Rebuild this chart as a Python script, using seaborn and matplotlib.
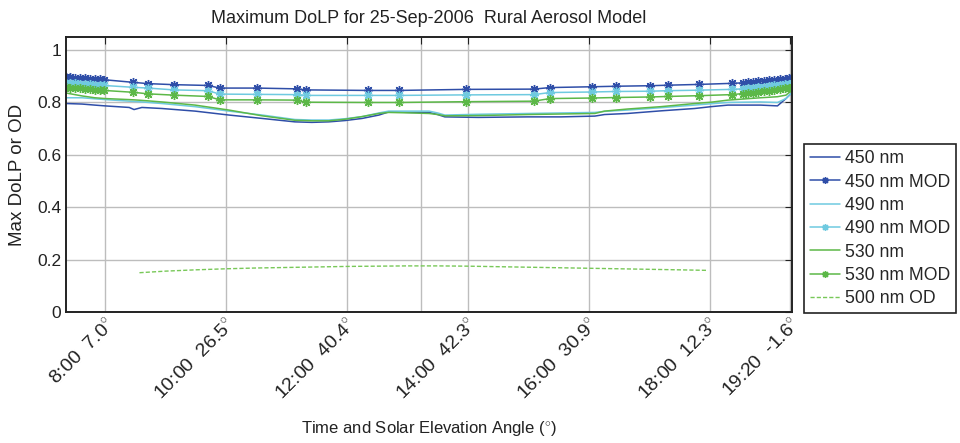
import numpy as np
import pandas as pd
import matplotlib
matplotlib.use("Agg")
import matplotlib.pyplot as plt
import seaborn as sns

# ---------------- data (hours of day) ----------------
meas_time = [7.36, 7.62, 7.83, 8.00, 8.40, 8.48, 8.61, 8.94, 9.49, 10.05, 10.60, 11.14,
             11.42, 11.70, 11.97, 12.25, 12.53, 12.69, 13.07, 13.36, 13.50, 13.62, 14.17,
             14.99, 15.54, 16.10, 16.26, 16.64, 17.19, 17.75, 18.02, 18.30, 18.84, 19.12,
             19.26, 19.36]
dolp_450 = [0.796, 0.794, 0.790, 0.787, 0.781, 0.773, 0.781, 0.777, 0.767, 0.752, 0.739, 0.726,
            0.724, 0.726, 0.731, 0.739, 0.752, 0.764, 0.762, 0.762, 0.754, 0.745, 0.743,
            0.745, 0.745, 0.748, 0.754, 0.758, 0.768, 0.777, 0.784, 0.790, 0.790, 0.787,
            0.815, 0.838]
dolp_490 = [0.818, 0.818, 0.814, 0.811, 0.805, 0.804, 0.802, 0.796, 0.784, 0.767, 0.752, 0.735,
            0.733, 0.733, 0.738, 0.746, 0.760, 0.767, 0.767, 0.767, 0.760, 0.752, 0.755,
            0.758, 0.760, 0.762, 0.766, 0.771, 0.780, 0.790, 0.795, 0.800, 0.802, 0.800,
            0.815, 0.838]
dolp_530 = [0.836, 0.825, 0.818, 0.815, 0.811, 0.810, 0.808, 0.802, 0.790, 0.771, 0.749, 0.732,
            0.730, 0.730, 0.736, 0.746, 0.758, 0.762, 0.760, 0.758, 0.754, 0.749, 0.750,
            0.754, 0.756, 0.758, 0.767, 0.775, 0.784, 0.796, 0.801, 0.809, 0.818, 0.822,
            0.828, 0.847]

mod_time = [7.36, 7.42, 7.50, 7.59, 7.67, 7.75, 7.83, 7.92, 7.98, 8.46, 8.71, 9.14, 9.70,
            9.90, 10.51, 11.17, 11.32, 12.35, 12.86, 13.97, 15.09, 15.36, 16.05, 16.45,
            17.02, 17.31, 17.83, 18.36, 18.55, 18.63, 18.71, 18.79, 18.89, 18.98, 19.07,
            19.16, 19.24, 19.31, 19.36]
mod_450 = [0.897, 0.896, 0.895, 0.894, 0.893, 0.891, 0.890, 0.888, 0.887, 0.877, 0.872, 0.868,
           0.865, 0.855, 0.855, 0.852, 0.848, 0.846, 0.846, 0.850, 0.851, 0.857, 0.860, 0.862,
           0.864, 0.866, 0.869, 0.873, 0.875, 0.877, 0.879, 0.881, 0.883, 0.885, 0.887,
           0.889, 0.891, 0.893, 0.895]
mod_490 = [0.875, 0.874, 0.873, 0.872, 0.870, 0.869, 0.868, 0.866, 0.865, 0.858, 0.855, 0.848,
           0.845, 0.832, 0.831, 0.830, 0.827, 0.827, 0.827, 0.829, 0.830, 0.838, 0.840, 0.842,
           0.843, 0.845, 0.847, 0.850, 0.852, 0.854, 0.856, 0.858, 0.861, 0.863, 0.865,
           0.868, 0.870, 0.872, 0.874]
mod_530 = [0.858, 0.857, 0.855, 0.854, 0.852, 0.851, 0.849, 0.847, 0.846, 0.839, 0.833, 0.828,
           0.823, 0.810, 0.810, 0.809, 0.801, 0.800, 0.800, 0.803, 0.805, 0.815, 0.817, 0.819,
           0.821, 0.823, 0.826, 0.830, 0.834, 0.836, 0.838, 0.840, 0.842, 0.845, 0.848,
           0.851, 0.854, 0.856, 0.858]

od_time = [8.57, 9.0, 9.5, 10.0, 10.5, 11.0, 11.5, 12.0, 12.5, 13.0, 13.2, 13.5, 14.0, 14.5,
           15.0, 15.5, 16.0, 16.5, 17.0, 17.5, 17.95]
od_500 = [0.150, 0.156, 0.161, 0.165, 0.168, 0.170, 0.172, 0.174, 0.175, 0.176, 0.176, 0.176,
          0.175, 0.173, 0.171, 0.169, 0.167, 0.165, 0.163, 0.161, 0.159]

tick_pos = [8.0, 10.0, 12.0, 13.23, 14.0, 16.0, 18.0, 19.333]
tick_labels = ["8:00  7.0$^{\\circ}$", "10:00  26.5$^{\\circ}$", "12:00  40.4$^{\\circ}$", "",
               "14:00  42.3$^{\\circ}$", "16:00  30.9$^{\\circ}$", "18:00  12.3$^{\\circ}$",
               "19:20  -1.6$^{\\circ}$"]

# ---------------- style ----------------
sns.set_style("white")
plt.rcParams["font.family"] = ["Liberation Sans", "DejaVu Sans"]
plt.rcParams["mathtext.fontset"] = "custom"
plt.rcParams["mathtext.rm"] = "Liberation Sans"

c450 = "#2f4ea8"
c490 = "#6fcae0"
c530 = "#5cb848"
cod = "#78c858"

fig = plt.figure(figsize=(9.6, 4.43), dpi=100)
ax = fig.add_axes([66 / 960, 1 - 312 / 443, (792 - 66) / 960, (312 - 37) / 443])


def mk(c):
    return dict(marker=(8, 2, 0), markersize=6.5, markeredgewidth=1.0,
                markeredgecolor=c, markerfacecolor=c)


sns.lineplot(x=meas_time, y=dolp_450, ax=ax, color=c450, lw=1.1, label="450 nm",
             estimator=None, sort=False)
sns.lineplot(x=mod_time, y=mod_450, ax=ax, color=c450, lw=1.1, label="450 nm MOD",
             estimator=None, sort=False, **mk(c450))
sns.lineplot(x=meas_time, y=dolp_490, ax=ax, color=c490, lw=1.1, label="490 nm",
             estimator=None, sort=False)
sns.lineplot(x=mod_time, y=mod_490, ax=ax, color=c490, lw=1.1, label="490 nm MOD",
             estimator=None, sort=False, **mk(c490))
sns.lineplot(x=meas_time, y=dolp_530, ax=ax, color=c530, lw=1.1, label="530 nm",
             estimator=None, sort=False)
sns.lineplot(x=mod_time, y=mod_530, ax=ax, color=c530, lw=1.1, label="530 nm MOD",
             estimator=None, sort=False, **mk(c530))
sns.lineplot(x=od_time, y=od_500, ax=ax, color=cod, lw=1.0, label="500 nm OD",
             estimator=None, sort=False, linestyle=(0, (3, 1.5)))

ax.set_xlim(7.355, 19.36)
ax.set_ylim(0, 1.05)
ax.set_yticks([0, 0.2, 0.4, 0.6, 0.8, 1.0])
ax.set_yticklabels(["0", "0.2", "0.4", "0.6", "0.8", "1"])
ax.set_xticks(tick_pos)
ax.set_xticklabels(tick_labels, rotation=45, ha="right", va="top", rotation_mode="anchor")
ax.tick_params(axis="both", direction="in", length=5, width=0.8, labelsize=12.5,
               top=True, right=True, colors="#222222", labelcolor="#222222")
ax.tick_params(axis="x", pad=2, labelsize=14)
ax.grid(True, color="#bdbdbd", linewidth=1.0)
ax.set_axisbelow(True)
for s in ax.spines.values():
    s.set_visible(True)
    s.set_color("#222222")
    s.set_linewidth(1.4)

ax.set_title("Maximum DoLP for 25-Sep-2006  Rural Aerosol Model", fontsize=13,
             color="#222222", pad=10)
ax.set_ylabel("Max DoLP or OD", fontsize=13.5, color="#222222", labelpad=8)
ax.set_xlabel("Time and Solar Elevation Angle ($^{\\circ}$)", fontsize=12,
              color="#222222", labelpad=12)

handles, labels = ax.get_legend_handles_labels()
ax.get_legend().remove()
leg = fig.legend(handles, labels, loc="upper left",
                 bbox_to_anchor=(804 / 960, 1 - 144 / 443), borderaxespad=0,
                 fontsize=12.7, frameon=True, fancybox=False, framealpha=1,
                 edgecolor="#222222", handlelength=1.7, handletextpad=0.25,
                 labelspacing=0.36, borderpad=0.35, markerscale=0.75)
leg.get_frame().set_linewidth(1.2)

fig.savefig("out.png", dpi=100)
